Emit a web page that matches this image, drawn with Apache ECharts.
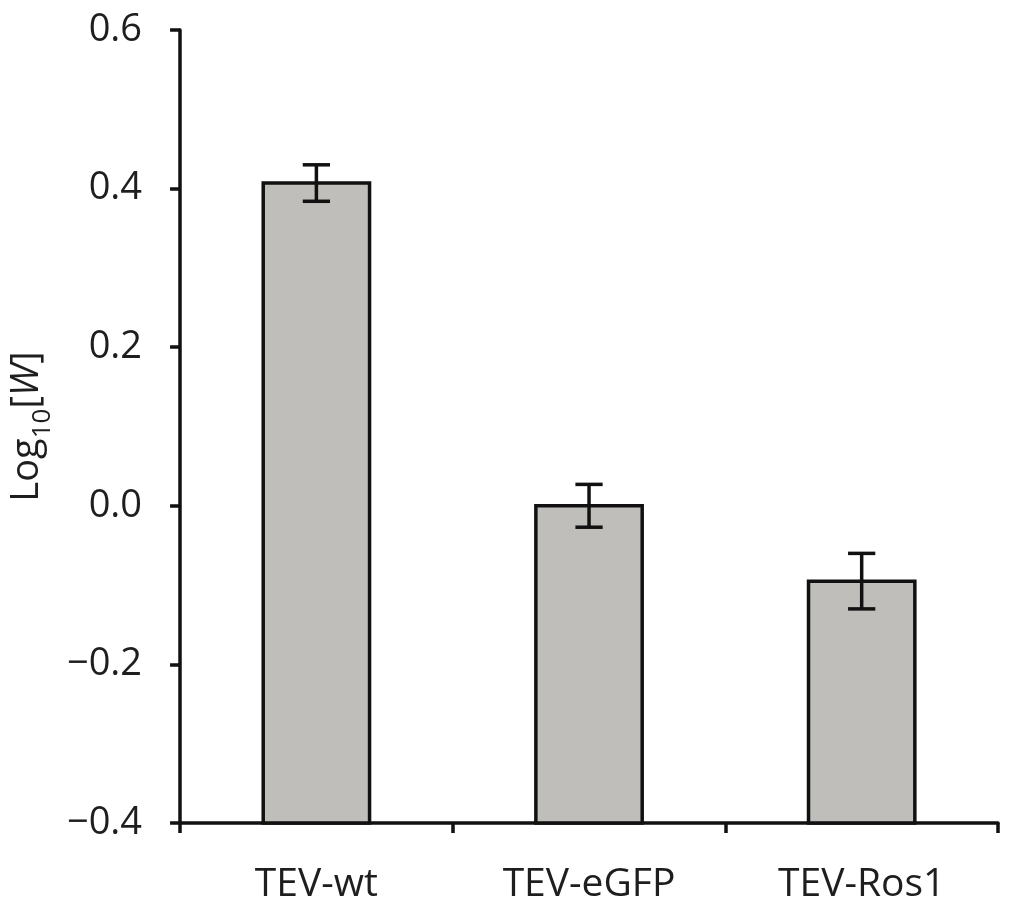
<!DOCTYPE html>
<html>
<head>
<meta charset="utf-8">
<script src="https://cdn.jsdelivr.net/npm/echarts@6/dist/echarts.min.js"></script>
<style>html,body{margin:0;padding:0;background:#fff;}#c{width:1024px;height:920px;}</style>
</head>
<body>
<div id="c"></div>
<script>
var categories = ['TEV-wt', 'TEV-eGFP', 'TEV-Ros1'];
var values = [0.407, 0.0, -0.095];
var errors = [0.023, 0.027, 0.035];
var yTicks = [-0.4, -0.2, 0.0, 0.2, 0.4, 0.6];

var FONT = 'Open Sans';
var yMin = yTicks[0], yMax = yTicks[yTicks.length - 1];

var chart = echarts.init(document.getElementById('c'));
chart.setOption({
  backgroundColor: '#fff',
  animation: false,
  grid: { left: 178, right: 26, top: 30, bottom: 97 },
  xAxis: {
    type: 'category',
    data: categories,
    boundaryGap: true,
    axisLine: { onZero: false, lineStyle: { color: '#111', width: 3.5 } },
    axisTick: { show: true, length: 10, lineStyle: { color: '#111', width: 3.5 } },
    axisLabel: { color: '#1e1e1e', fontFamily: FONT, fontSize: 39, margin: 42 },
    splitLine: { show: false }
  },
  yAxis: {
    type: 'value',
    min: yMin, max: yMax, interval: 0.2,
    axisLine: { show: true, lineStyle: { color: '#111', width: 3.5 } },
    axisTick: { show: true, length: 10, lineStyle: { color: '#111', width: 3.5 } },
    axisLabel: {
      color: '#1e1e1e', fontFamily: FONT, fontSize: 38, margin: 38,
      formatter: function (v) { return v.toFixed(1).replace('-', '\u2212'); }
    },
    splitLine: { show: false },
    name: '{a|Log}{s|10}{a|[}{i|W}{a|]}',
    nameLocation: 'middle',
    nameRotate: 90,
    nameGap: 126,
    nameTextStyle: {
      rich: {
        a: { fontFamily: FONT, fontSize: 38, color: '#1e1e1e', lineHeight: 48, verticalAlign: 'bottom' },
        i: { fontFamily: FONT, fontSize: 38, color: '#1e1e1e', fontStyle: 'italic', lineHeight: 48, verticalAlign: 'bottom' },
        s: { fontFamily: FONT, fontSize: 26, color: '#1e1e1e', lineHeight: 48, verticalAlign: 'bottom', padding: [0, 0, -10, 0] }
      }
    }
  },
  series: [
    {
      type: 'custom',
      data: values.map(function (v, i) { return [i, v]; }),
      renderItem: function (params, api) {
        var i = api.value(0), v = api.value(1);
        var top = api.coord([i, v]);
        var base = api.coord([i, yMin]);
        var w = api.size([1, 0])[0] * 0.39;
        return {
          type: 'rect',
          shape: { x: top[0] - w / 2, y: top[1], width: w, height: base[1] - top[1] },
          style: { fill: '#bfbebb', stroke: '#111', lineWidth: 3.5 }
        };
      },
      z: 2
    },
    {
      type: 'custom',
      data: values.map(function (v, i) { return [i, v - errors[i], v + errors[i]]; }),
      renderItem: function (params, api) {
        var i = api.value(0);
        var lo = api.coord([i, api.value(1)]);
        var hi = api.coord([i, api.value(2)]);
        var cw = api.size([1, 0])[0] * 0.05;
        var st = { stroke: '#111', lineWidth: 3.5 };
        return {
          type: 'group',
          children: [
            { type: 'line', shape: { x1: lo[0], y1: lo[1], x2: hi[0], y2: hi[1] }, style: st },
            { type: 'line', shape: { x1: lo[0] - cw, y1: lo[1], x2: lo[0] + cw, y2: lo[1] }, style: st },
            { type: 'line', shape: { x1: hi[0] - cw, y1: hi[1], x2: hi[0] + cw, y2: hi[1] }, style: st }
          ]
        };
      },
      z: 3
    }
  ]
});
</script>
</body>
</html>
